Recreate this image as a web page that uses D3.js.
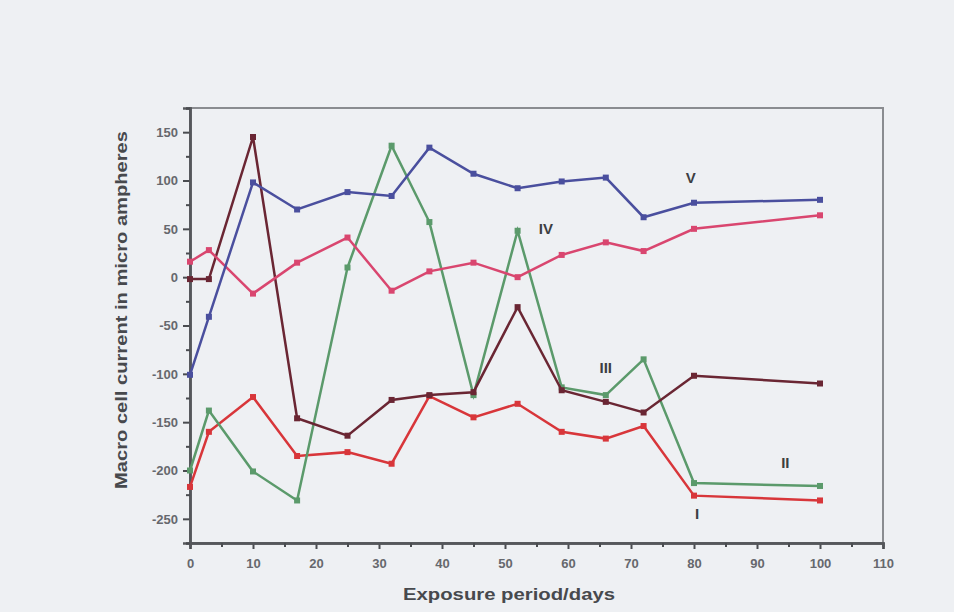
<!DOCTYPE html>
<html><head><meta charset="utf-8">
<script src="https://cdn.jsdelivr.net/npm/d3@7"></script>
<style>
html,body{margin:0;padding:0;background:#eef0f3;}
svg{display:block;}
text{font-family:"Liberation Sans",Arial,sans-serif;}
</style></head>
<body>
<script>
const days = [0, 3, 10, 17, 25, 32, 38, 45, 52, 59, 66, 72, 80, 100];
const seriesI   = [-217, -160, -124, -185, -181, -193, -123, -145, -131, -160, -167, -154, -226, -231];
const seriesII  = [-200, -138, -201, -231, 10, 136, 57, -122, 48, -114, -122, -85, -213, -216];
const seriesIII = [-2, -2, 145, -146, -164, -127, -122, -119, -31, -117, -129, -140, -102, -110];
const seriesIV  = [16, 28, -17, 15, 41, -14, 6, 15, 0, 23, 36, 27, 50, 64];
const seriesV   = [-101, -41, 98, 70, 88, 84, 134, 107, 92, 99, 103, 62, 77, 80];
const seriesNames = ["I", "II", "III", "IV", "V"];
const seriesColors = ["#d8363a", "#5b9a6b", "#6a2633", "#d9466f", "#4a4f9e"];
const labelPos = [[80.5, -250], [94.5, -197], [66, -99], [56.5, 45], [79.5, 97]]; // data coords of labels
const xTicks = [0, 10, 20, 30, 40, 50, 60, 70, 80, 90, 100, 110];
const yTicks = [-250, -200, -150, -100, -50, 0, 50, 100, 150];

const W = 954, H = 612;
const svg = d3.select("body").append("svg").attr("width", W).attr("height", H);
svg.append("rect").attr("width", W).attr("height", H).attr("fill", "#eef0f3");

const x = d3.scaleLinear().domain([0, 110]).range([190, 883]);
const y = d3.scaleLinear().domain([-275, 175]).range([543, 108]);

// frame
svg.append("rect").attr("x", 190).attr("y", 108).attr("width", 693).attr("height", 435)
  .attr("fill", "none").attr("stroke", "#8a8c90").attr("stroke-width", 2);

const fmt = d => String(d);
// axes
const xAxis = d3.axisBottom(x).tickValues(xTicks).tickSize(6).tickPadding(10).tickFormat(fmt);
svg.append("g").attr("transform", "translate(0,543)").call(xAxis);
const xMinor = d3.axisBottom(x).tickValues(d3.range(5, 110, 10)).tickSize(4).tickFormat("");
svg.append("g").attr("transform", "translate(0,543)").call(xMinor);

const yAxis = d3.axisLeft(y).tickValues(yTicks).tickSize(7).tickPadding(5).tickFormat(fmt);
svg.append("g").attr("transform", "translate(190,0)").call(yAxis);
const yMinor = d3.axisLeft(y).tickValues(d3.range(-275, 176, 50)).tickSize(4).tickFormat("");
svg.append("g").attr("transform", "translate(190,0)").call(yMinor);

svg.selectAll(".domain").attr("stroke", "#55575b").attr("stroke-width", 2.5);
svg.selectAll(".tick line").attr("stroke", "#4a4c50").attr("stroke-width", 2);
svg.selectAll(".tick text").attr("fill", "#66686d").attr("font-size", 13).attr("font-weight", "bold");

// axis titles
svg.append("text").attr("x", 509).attr("y", 600).attr("text-anchor", "middle")
  .attr("font-size", 17).attr("font-weight", "bold").attr("fill", "#47494d")
  .attr("textLength", 212).attr("lengthAdjust", "spacingAndGlyphs")
  .text("Exposure period/days");
svg.append("text").attr("transform", "translate(127,310) rotate(-90)").attr("text-anchor", "middle")
  .attr("font-size", 17).attr("font-weight", "bold").attr("fill", "#47494d")
  .attr("textLength", 358).attr("lengthAdjust", "spacingAndGlyphs")
  .text("Macro cell current  in micro ampheres");

// series
const allSeries = [seriesI, seriesII, seriesIII, seriesIV, seriesV];
const line = d3.line().x(d => x(d[0])).y(d => y(d[1]));
allSeries.forEach((vals, i) => {
  const pts = days.map((d, j) => [d, vals[j]]);
  const g = svg.append("g");
  g.append("path").datum(pts).attr("d", line).attr("fill", "none")
    .attr("stroke", seriesColors[i]).attr("stroke-width", 2.5).attr("stroke-linejoin", "miter");
  g.selectAll("rect").data(pts).enter().append("rect")
    .attr("x", d => x(d[0]) - 3).attr("y", d => y(d[1]) - 3)
    .attr("width", 6).attr("height", 6).attr("fill", seriesColors[i]);
});

// series labels
seriesNames.forEach((n, i) => {
  svg.append("text").attr("x", x(labelPos[i][0])).attr("y", y(labelPos[i][1]))
    .attr("text-anchor", "middle").attr("font-size", 15).attr("font-weight", "bold")
    .attr("fill", "#3c3e42").text(n);
});
</script>
</body></html>
